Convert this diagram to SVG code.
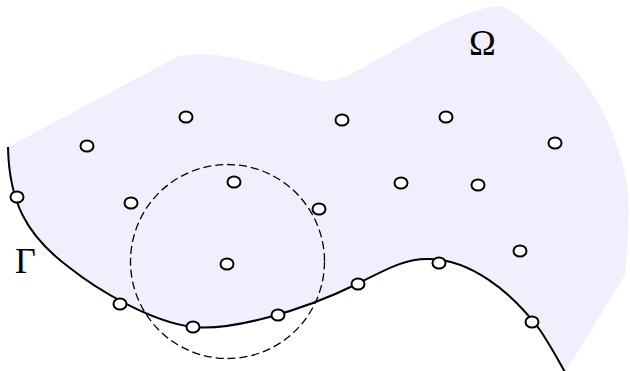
<svg xmlns="http://www.w3.org/2000/svg" width="630" height="371" viewBox="0 0 630 371">
<style>
.pt{fill:#fff;stroke:#000;stroke-width:2}
.lbl{font-family:"Liberation Serif",serif;font-size:36px;fill:#000}
</style>
<rect width="630" height="371" fill="#fff"/>
<g id="omega">
<path d="M8,147 C9,200 25,235 70,268 C95,288 150,322 193,327 C230,331 300,312 357,284 C385,270 405,258 430,259 C470,260 510,290 540,330 C552,348 558,360 565,372 L625,275 C628,240 630,205 627,185 C615,110 570,50 503,6 C470,6 420,35 380,58 C355,72 340,82 323,81 C290,74 250,58 215,55 C200,54 185,55 177,57 Z" fill="#f2eefd"/>
<text class="lbl" x="469" y="55">Ω</text>
</g>
<g id="connectors">
<path id="gamma-curve" d="M8,147 C9,200 25,235 70,268 C95,288 150,322 193,327 C230,331 300,312 357,284 C385,270 405,258 430,259 C470,260 510,290 540,330 C552,348 558,360 565,372" fill="none" stroke="#000" stroke-width="2"/>
<circle id="support" cx="227.5" cy="261.5" r="97" fill="none" stroke="#000" stroke-width="1.3" stroke-dasharray="8,4"/>
</g>
<g id="gamma"><text class="lbl" x="15" y="273">Γ</text></g>
<g id="nodes">
<ellipse class="pt" cx="87" cy="146" rx="6.5" ry="5.5"/>
<ellipse class="pt" cx="186" cy="117" rx="6.5" ry="5.5"/>
<ellipse class="pt" cx="131" cy="203" rx="6.5" ry="5.5"/>
<ellipse class="pt" cx="234" cy="182" rx="6.5" ry="5.5"/>
<ellipse class="pt" cx="227" cy="264" rx="6.5" ry="5.5"/>
<ellipse class="pt" cx="319" cy="209" rx="6.5" ry="5.5"/>
<ellipse class="pt" cx="342" cy="120" rx="6.5" ry="5.5"/>
<ellipse class="pt" cx="446" cy="117" rx="6.5" ry="5.5"/>
<ellipse class="pt" cx="555" cy="143" rx="6.5" ry="5.5"/>
<ellipse class="pt" cx="401" cy="183" rx="6.5" ry="5.5"/>
<ellipse class="pt" cx="478" cy="185" rx="6.5" ry="5.5"/>
<ellipse class="pt" cx="520" cy="251" rx="6.5" ry="5.5"/>
<ellipse class="pt" cx="17" cy="197" rx="6.5" ry="5.5"/>
<ellipse class="pt" cx="120" cy="304" rx="6.5" ry="5.5"/>
<ellipse class="pt" cx="193" cy="327" rx="6.5" ry="5.5"/>
<ellipse class="pt" cx="278" cy="315" rx="6.5" ry="5.5"/>
<ellipse class="pt" cx="358" cy="284" rx="6.5" ry="5.5"/>
<ellipse class="pt" cx="439" cy="263" rx="6.5" ry="5.5"/>
<ellipse class="pt" cx="532" cy="322" rx="6.5" ry="5.5"/>
</g>
</svg>
